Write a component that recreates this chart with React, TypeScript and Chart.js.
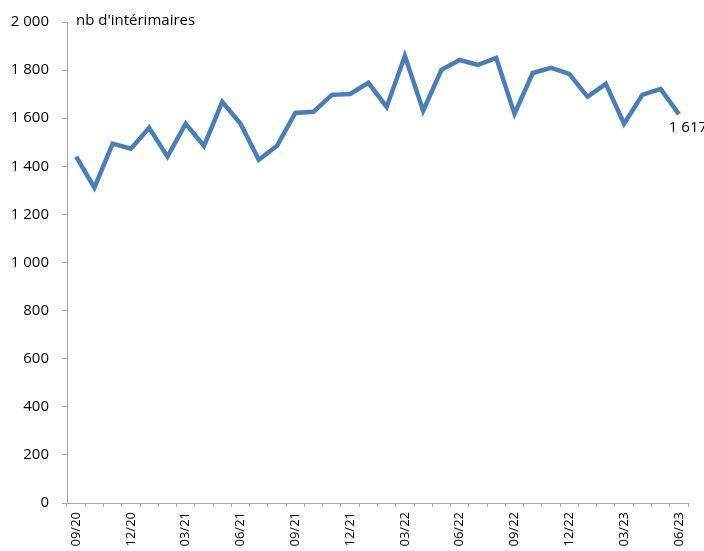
import React, { useEffect, useRef } from "react";
import { Chart, registerables } from "chart.js";

Chart.register(...registerables);

const months: string[] = [
  "09/20", "10/20", "11/20", "12/20", "01/21", "02/21", "03/21", "04/21", "05/21", "06/21",
  "07/21", "08/21", "09/21", "10/21", "11/21", "12/21", "01/22", "02/22", "03/22", "04/22",
  "05/22", "06/22", "07/22", "08/22", "09/22", "10/22", "11/22", "12/22", "01/23", "02/23",
  "03/23", "04/23", "05/23", "06/23",
];

const interimaires: number[] = [
  1440, 1311, 1494, 1473, 1560, 1440, 1577, 1485, 1668, 1577,
  1427, 1485, 1622, 1627, 1697, 1701, 1747, 1647, 1859, 1631,
  1801, 1842, 1822, 1851, 1618, 1788, 1809, 1784, 1689, 1743,
  1577, 1697, 1722, 1617,
];

const yAxisTitle = "nb d'intérimaires";
const lastValueLabel = "1 617";

const FONT = "'Open Sans', 'Noto Sans', sans-serif";
const AXIS_COLOR = "#A6A6A6";
const LINE_COLOR = "#4A7EBB";

const fmt = (v: number) => {
  const s = Math.round(v).toString();
  return s.replace(/\B(?=(\d{3})+(?!\d))/g, " ");
};

const overlayPlugin = {
  id: "overlay",
  afterDraw(chart: any) {
    const ctx = chart.ctx;
    const area = chart.chartArea;
    ctx.save();
    ctx.fillStyle = "#000";
    ctx.font = `15px ${FONT}`;
    ctx.textAlign = "left";
    ctx.textBaseline = "middle";
    ctx.fillText(yAxisTitle, area.left + 9, area.top - 1);
    const meta = chart.getDatasetMeta(0);
    const last = meta.data[meta.data.length - 1];
    if (last) {
      ctx.fillText(lastValueLabel, last.x - 10, last.y + 14);
    }
    ctx.restore();
  },
};

export default function App() {
  const ref = useRef<HTMLCanvasElement | null>(null);
  useEffect(() => {
    if (!ref.current) return;
    const chart = new Chart(ref.current, {
      type: "line",
      data: {
        labels: months,
        datasets: [
          {
            data: interimaires,
            borderColor: LINE_COLOR,
            backgroundColor: LINE_COLOR,
            borderWidth: 4.5,
            pointRadius: 0,
            tension: 0,
            fill: false,
          },
        ],
      },
      options: {
        animation: false,
        responsive: false,
        maintainAspectRatio: false,
        layout: { padding: { left: 0, right: 16, top: 21, bottom: 0 } },
        plugins: {
          legend: { display: false },
          tooltip: { enabled: false },
          title: { display: false },
        },
        scales: {
          x: {
            type: "category",
            offset: true,
            grid: {
              display: true,
              offset: true,
              drawOnChartArea: false,
              drawTicks: true,
              tickLength: 4,
              color: AXIS_COLOR,
            },
            border: { display: true, color: AXIS_COLOR, width: 1 },
            ticks: {
              autoSkip: false,
              maxRotation: 90,
              minRotation: 90,
              padding: 5,
              color: "#000",
              font: { family: FONT, size: 13 },
              callback: (_v: any, i: number) => (i % 3 === 0 ? months[i] : ""),
            },
            afterFit: (s: any) => {
              s.height = 48;
            },
          },
          y: {
            min: 0,
            max: 2000,
            grid: {
              display: true,
              drawOnChartArea: false,
              drawTicks: true,
              tickLength: 5,
              color: AXIS_COLOR,
            },
            border: { display: true, color: AXIS_COLOR, width: 1 },
            ticks: {
              stepSize: 200,
              padding: 13,
              color: "#000",
              font: { family: FONT, size: 15 },
              callback: (v: any) => fmt(Number(v)),
            },
            afterFit: (s: any) => {
              s.width = 67;
            },
          },
        },
      },
      plugins: [overlayPlugin],
    });
    return () => chart.destroy();
  }, []);

  return (
    <div style={{ position: "absolute", left: 0, top: 0, width: 704, height: 551, background: "#fff" }}>
      <canvas ref={ref} width={704} height={551} style={{ width: 704, height: 551, display: "block" }} />
    </div>
  );
}
